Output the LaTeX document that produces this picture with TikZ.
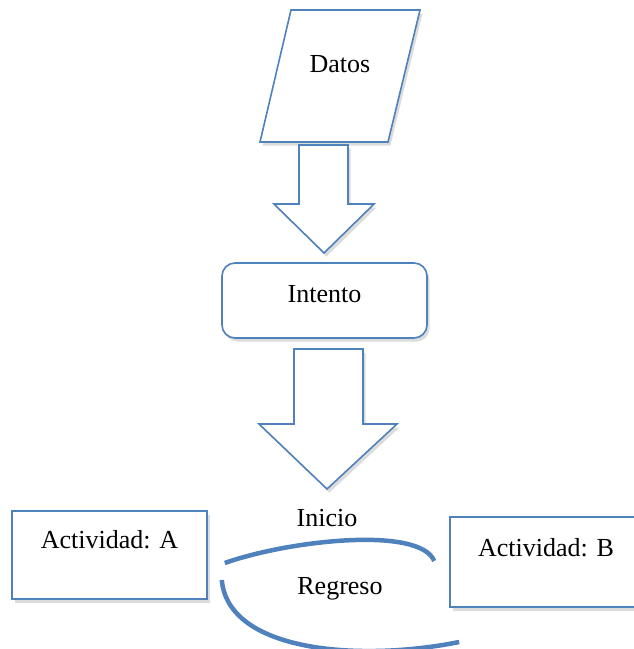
\documentclass[tikz,border=0pt]{standalone}
\usepackage{fontspec}
\setmainfont{Liberation Serif}
\usetikzlibrary{shadows,calc}
\definecolor{frame}{HTML}{4F81BD}
\begin{document}
\begin{tikzpicture}[x=1pt,y=-1pt,
  txt/.style={font=\fontsize{26}{30}\selectfont,anchor=base,inner sep=0pt},
  softshadow/.style={drop shadow={opacity=0.28,shadow xshift=2.5pt,shadow yshift=-3.5pt}},
  outline/.style={draw=frame,line width=1.6pt,fill=white,softshadow},
  boxnode/.style={outline,inner sep=0pt},
  flow/.style={draw=frame,line width=4.5pt}]
\useasboundingbox (0,0) rectangle (634,649);

% input parallelogram
\coordinate (d1) at (291,10);
\coordinate (d2) at (420,10);
\coordinate (d3) at (388,142);
\coordinate (d4) at (260,142);
\filldraw[outline,line join=miter] (d1) -- (d2) -- (d3) -- (d4) -- cycle;
\node[txt] (datos) at (340,72) {Datos};

% block arrow from the data to the attempt
\coordinate (a1) at (323.5,145);
\filldraw[outline,line join=miter]
  ($(a1)+(-24.5,0)$) -- ($(a1)+(24.5,0)$) -- ($(a1)+(24.5,59)$) -- ($(a1)+(50.5,59)$)
  -- ($(a1)+(0.5,108)$) -- ($(a1)+(-49.5,59)$) -- ($(a1)+(-24.5,59)$) -- cycle;

% attempt box
\node[boxnode,rounded corners=13pt,minimum width=205pt,minimum height=75pt] (intento) at (324.5,300.5) {};
\node[txt] (intentotxt) at ($(intento.north)+(0,40)$) {Intento};

% block arrow from the attempt to the start
\coordinate (a2) at (328.5,349);
\filldraw[outline,line join=miter]
  ($(a2)+(-34.5,0)$) -- ($(a2)+(34.5,0)$) -- ($(a2)+(34.5,75)$) -- ($(a2)+(68.5,75)$)
  -- ($(a2)+(-1.5,140)$) -- ($(a2)+(-69.5,75)$) -- ($(a2)+(-34.5,75)$) -- cycle;

% activity boxes
\node[boxnode,minimum width=195pt,minimum height=88pt] (actA) at (109.5,555) {};
\node[txt] (actAtxt) at ($(actA.north)+(0,38)$) {Actividad: A};
\node[boxnode,minimum width=195pt,minimum height=90pt] (actB) at (547.5,562) {};
\node[txt] (actBtxt) at ($(actB.north)+(-1.5,40)$) {Actividad: B};

% start and return links
\coordinate (s1) at ($(actA.east)+(17,8)$);
\coordinate (s2) at ($(actB.west)+(-15,-1)$);
\coordinate (r1) at ($(actA.east)+(14,25)$);
\coordinate (r2) at ($(actB.west)+(10,80)$);
\draw[flow] (s1) .. controls (290,540) and (420,526) .. (s2);
\draw[flow] (r1) .. controls (228,652) and (360,662) .. (r2);
\node[txt] (inicio) at (327,526) {Inicio};
\node[txt] (regreso) at (340,594) {Regreso};
\end{tikzpicture}
\end{document}
